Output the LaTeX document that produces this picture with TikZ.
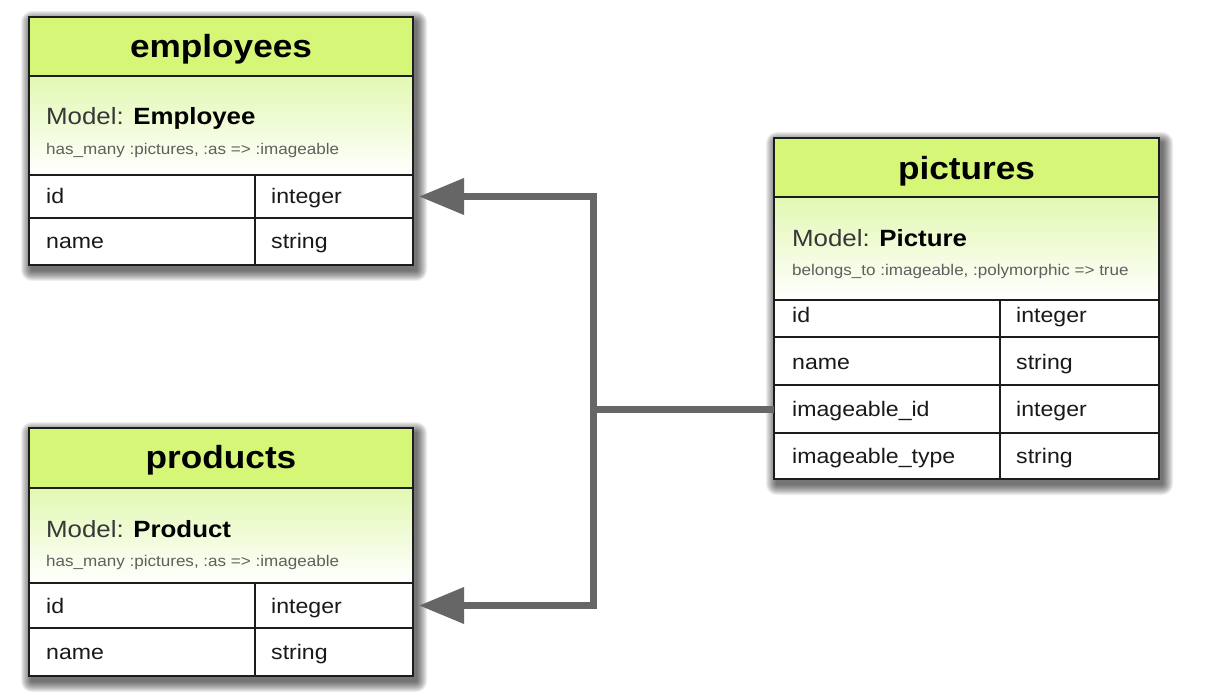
\documentclass[tikz,border=0pt]{standalone}
\usepackage{fontspec}
\setmainfont{Liberation Sans}[FakeStretch=1.1]
\usetikzlibrary{arrows.meta}
\definecolor{hdrgreen}{RGB}{214,246,120}
\definecolor{lightgreen}{RGB}{226,248,178}
\definecolor{bordercol}{RGB}{28,28,28}
\definecolor{conncol}{RGB}{102,102,102}
\definecolor{modelgray}{RGB}{55,55,55}
\definecolor{notegray}{RGB}{95,95,95}
\newcommand{\ttlfont}{\fontsize{32}{38}\selectfont\bfseries}
\newcommand{\mdlfont}{\fontsize{23.5}{28}\selectfont}
\newcommand{\notefont}{\fontsize{15.5}{18}\selectfont}
\newcommand{\rowfont}{\fontsize{21}{25}\selectfont}
\newcommand{\tblshadow}[1]{%
  \foreach \e in {1,...,11} {%
    \fill[black, opacity=0.065, rounded corners={\e pt}]
      ([xshift={3pt-\e pt}, yshift={-5pt+\e pt}]#1.north west) rectangle
      ([xshift={3pt+\e pt}, yshift={-5pt-\e pt}]#1.south east);
  }}
\begin{document}
\begin{tikzpicture}[x=1pt,y=-1pt,
  tablebox/.style={inner sep=0pt, outer sep=0pt, anchor=north west},
  part/.style={draw=bordercol, line width=2pt, inner sep=0pt, outer sep=0pt, anchor=north west},
  hdr/.style={part, fill=hdrgreen},
  mdl/.style={part, top color=lightgreen, bottom color=white},
  cell/.style={part, fill=white},
  ttl/.style={inner sep=0pt, anchor=base, font=\ttlfont, text=black},
  mtxt/.style={inner sep=0pt, anchor=base west, font=\mdlfont, text=modelgray},
  note/.style={inner sep=0pt, anchor=base west, font=\notefont, text=notegray},
  rtxt/.style={inner sep=0pt, anchor=base west, font=\rowfont, text=black!90},
  conn/.style={draw=conncol, line width=7pt, line join=miter},
  arr/.style={-{Triangle[length=45pt,width=35pt]}, shorten >=6pt}
]
\useasboundingbox[fill=white] (0,0) rectangle (1214,700);

% ---------- employees ----------
\node[tablebox, minimum width=384pt, minimum height=248pt] (emp) at (29,17) {};
\tblshadow{emp}
\node[hdr, minimum width=384pt, minimum height=59pt] (emp-h) at (29,17) {};
\node[mdl, minimum width=384pt, minimum height=99pt] (emp-m) at (29,76) {};
\node[cell, minimum width=226pt, minimum height=43pt] (emp-r1c1) at (29,175) {};
\node[cell, minimum width=158pt, minimum height=43pt] (emp-r1c2) at (255,175) {};
\node[cell, minimum width=226pt, minimum height=47pt] (emp-r2c1) at (29,218) {};
\node[cell, minimum width=158pt, minimum height=47pt] (emp-r2c2) at (255,218) {};
\node[ttl] (emp-t) at (221,58) {employees};
\node[mtxt] (emp-mt) at (46,125) {Model: \textcolor{black}{\bfseries Employee}};
\node[note] (emp-n) at (46,155) {has\_many :pictures, :as => :imageable};
\node[rtxt] (emp-a1) at (46,204) {id};
\node[rtxt] (emp-b1) at (271,204) {integer};
\node[rtxt] (emp-a2) at (46,249) {name};
\node[rtxt] (emp-b2) at (271,249) {string};

% ---------- products ----------
\node[tablebox, minimum width=384pt, minimum height=248pt] (prod) at (29,428) {};
\tblshadow{prod}
\node[hdr, minimum width=384pt, minimum height=60pt] (prod-h) at (29,428) {};
\node[mdl, minimum width=384pt, minimum height=95pt] (prod-m) at (29,488) {};
\node[cell, minimum width=226pt, minimum height=45pt] (prod-r1c1) at (29,583) {};
\node[cell, minimum width=158pt, minimum height=45pt] (prod-r1c2) at (255,583) {};
\node[cell, minimum width=226pt, minimum height=48pt] (prod-r2c1) at (29,628) {};
\node[cell, minimum width=158pt, minimum height=48pt] (prod-r2c2) at (255,628) {};
\node[ttl] (prod-t) at (221,468) {products};
\node[mtxt] (prod-mt) at (46,537) {Model: \textcolor{black}{\bfseries Product}};
\node[note] (prod-n) at (46,566) {has\_many :pictures, :as => :imageable};
\node[rtxt] (prod-a1) at (46,613) {id};
\node[rtxt] (prod-b1) at (271,613) {integer};
\node[rtxt] (prod-a2) at (46,659) {name};
\node[rtxt] (prod-b2) at (271,659) {string};

% ---------- pictures ----------
\node[tablebox, minimum width=385pt, minimum height=341pt] (pic) at (774,138) {};
\tblshadow{pic}
\node[hdr, minimum width=385pt, minimum height=59pt] (pic-h) at (774,138) {};
\node[mdl, minimum width=385pt, minimum height=103pt] (pic-m) at (774,197) {};
\node[cell, minimum width=226pt, minimum height=37pt] (pic-r1c1) at (774,300) {};
\node[cell, minimum width=159pt, minimum height=37pt] (pic-r1c2) at (1000,300) {};
\node[cell, minimum width=226pt, minimum height=48pt] (pic-r2c1) at (774,337) {};
\node[cell, minimum width=159pt, minimum height=48pt] (pic-r2c2) at (1000,337) {};
\node[cell, minimum width=226pt, minimum height=48pt] (pic-r3c1) at (774,385) {};
\node[cell, minimum width=159pt, minimum height=48pt] (pic-r3c2) at (1000,385) {};
\node[cell, minimum width=226pt, minimum height=46pt] (pic-r4c1) at (774,433) {};
\node[cell, minimum width=159pt, minimum height=46pt] (pic-r4c2) at (1000,433) {};
\node[ttl] (pic-t) at (966.5,180) {pictures};
\node[mtxt] (pic-mt) at (792,246.5) {Model: \textcolor{black}{\bfseries Picture}};
\node[note] (pic-n) at (792,275.5) {belongs\_to :imageable, :polymorphic => true};
\node[rtxt] (pic-a1) at (792,322.5) {id};
\node[rtxt] (pic-b1) at (1016,322.5) {integer};
\node[rtxt] (pic-a2) at (792,369) {name};
\node[rtxt] (pic-b2) at (1016,369) {string};
\node[rtxt] (pic-a3) at (792,416) {imageable\_id};
\node[rtxt] (pic-b3) at (1016,416) {integer};
\node[rtxt] (pic-a4) at (792,463) {imageable\_type};
\node[rtxt] (pic-b4) at (1016,463) {string};

% ---------- connectors ----------
\path (pic-r3c1.west) -- ++(-181,0) coordinate (jn);
\draw[conn] (pic-r3c1.west) -- (jn);
\draw[conn, arr] (jn) |- (emp-r1c2.east);
\draw[conn, arr] (jn) |- (prod-r1c2.east);
\end{tikzpicture}
\end{document}
